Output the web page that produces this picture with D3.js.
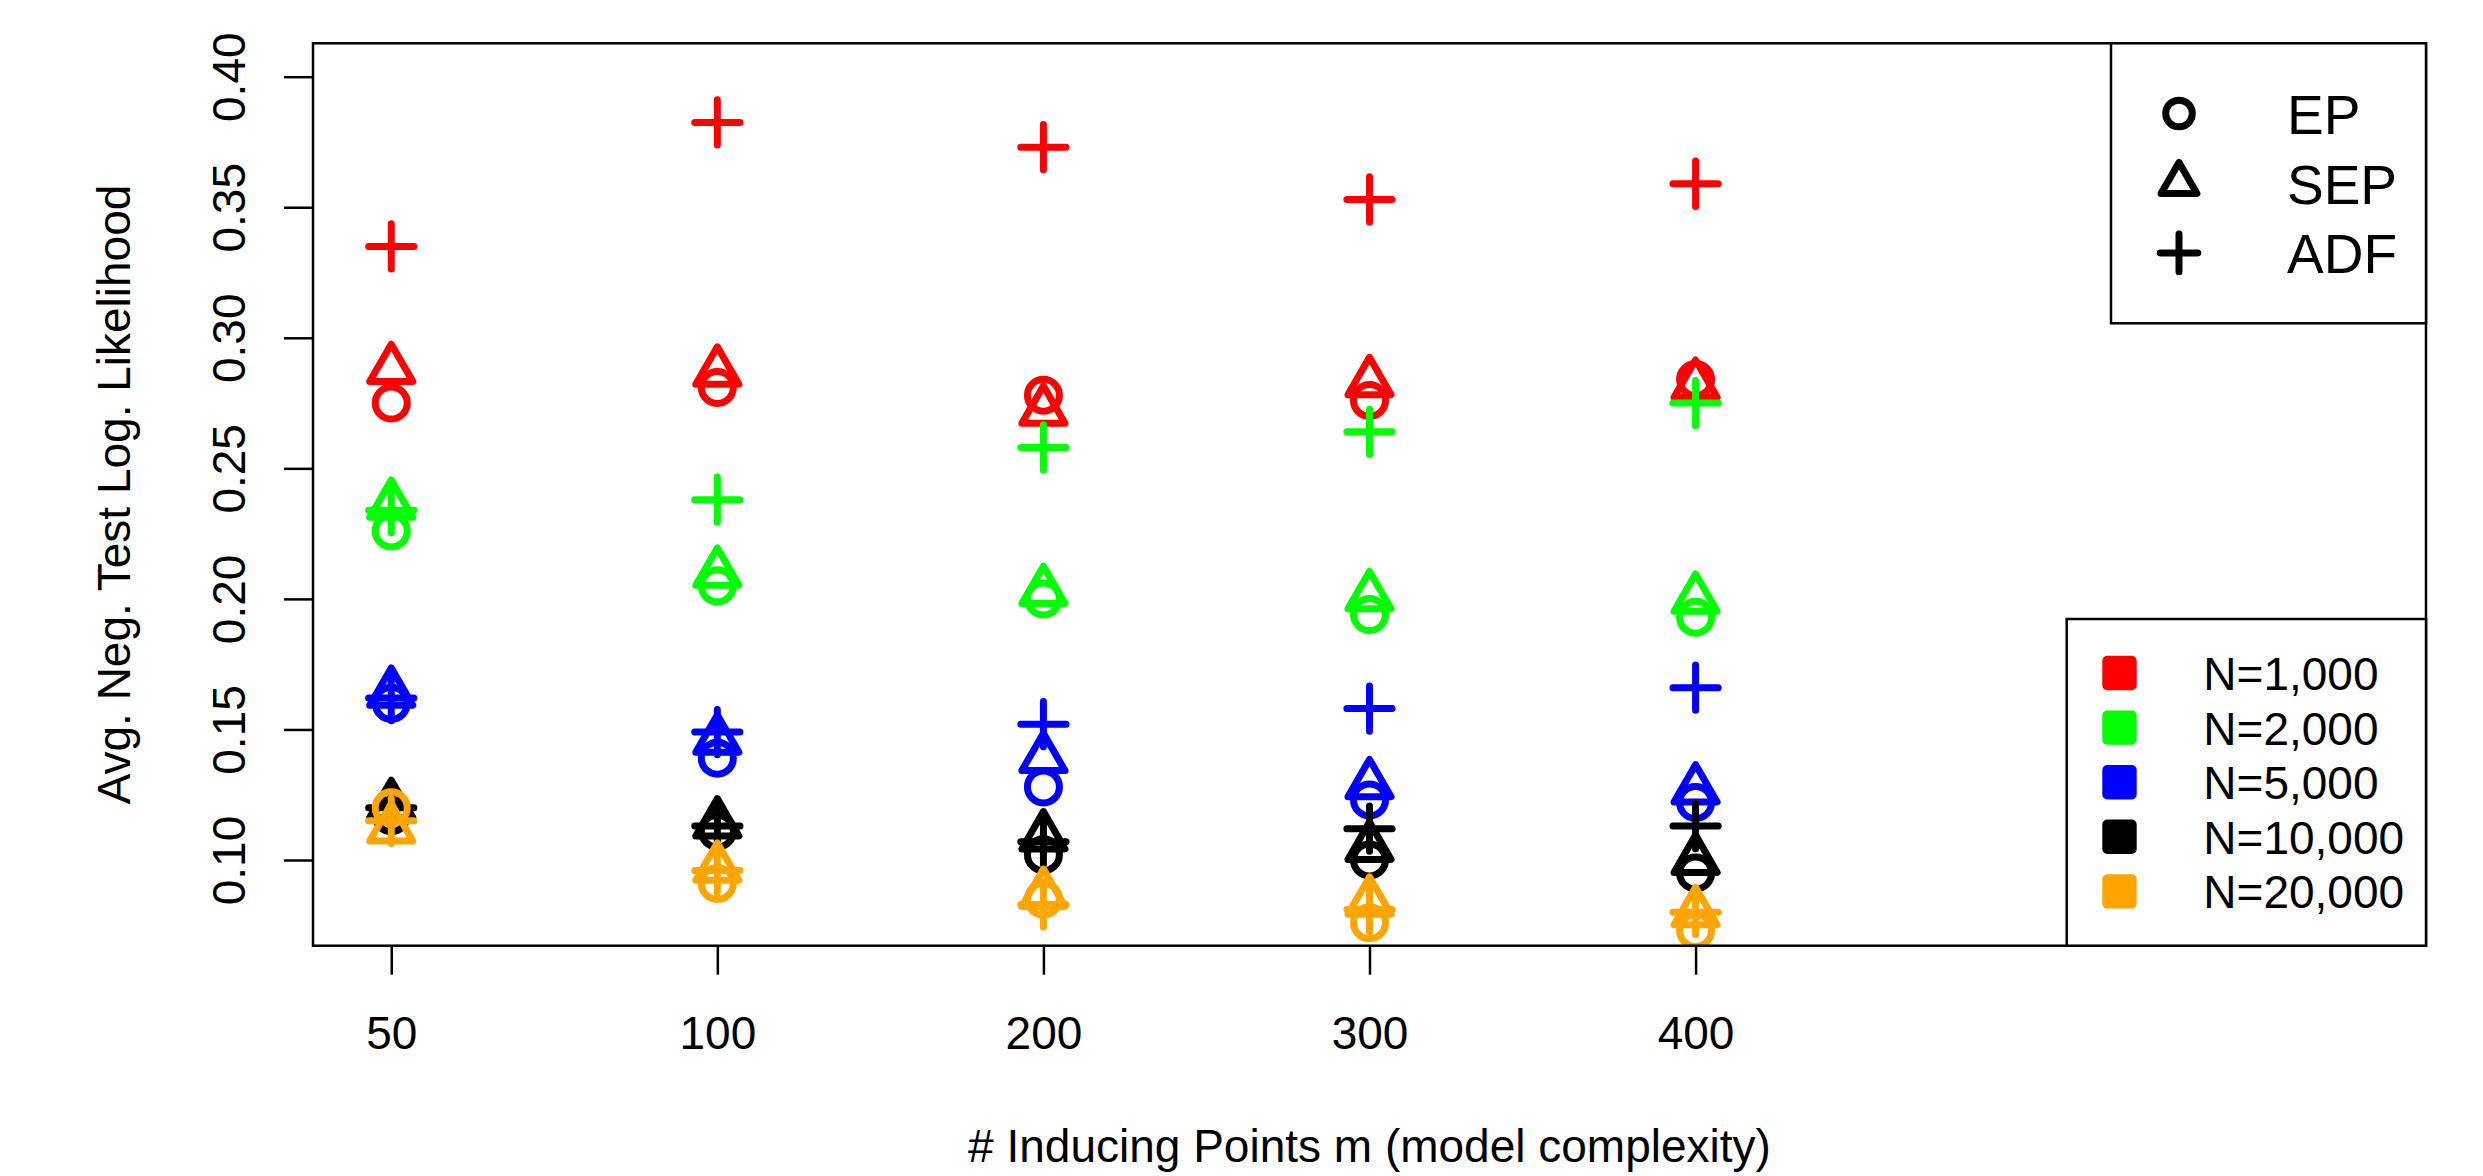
<!DOCTYPE html>
<html>
<head>
<meta charset="utf-8">
<script src="https://cdn.jsdelivr.net/npm/d3@7"></script>
<style>
  html, body { margin: 0; padding: 0; background: #fff; }
  svg { display: block; }
  text { font-family: "Liberation Sans", Arial, Helvetica, sans-serif; fill: #000; }
</style>
</head>
<body>
<script>
// Inducing points (x categories) and dataset sizes
const inducingPoints = [50, 100, 200, 300, 400];
const sizeLabels = ["N=1,000", "N=2,000", "N=5,000", "N=10,000", "N=20,000"];
const sizeColors = ["#ff0000", "#00ff00", "#0000ff", "#000000", "#ffa500"];
const methods = ["EP", "SEP", "ADF"];
const yTicks = [0.10, 0.15, 0.20, 0.25, 0.30, 0.35, 0.40];

// Avg. negative test log likelihood, one row per dataset size
const epValues = [
  [0.275, 0.281, 0.278, 0.276, 0.284],
  [0.226, 0.205, 0.200, 0.194, 0.193],
  [0.160, 0.139, 0.128, 0.123, 0.122],
  [0.117, 0.111, 0.102, 0.100, 0.095],
  [0.120, 0.091, 0.085, 0.076, 0.073]
];
const sepValues = [
  [0.288, 0.287, 0.272, 0.283, 0.282],
  [0.236, 0.210, 0.203, 0.201, 0.200],
  [0.164, 0.146, 0.139, 0.129, 0.127],
  [0.121, 0.114, 0.109, 0.105, 0.100],
  [0.112, 0.097, 0.087, 0.084, 0.080]
];
const adfValues = [
  [0.335, 0.3825, 0.373, 0.353, 0.359],
  [0.234, 0.238, 0.258, 0.264, 0.275],
  [0.162, 0.149, 0.152, 0.158, 0.166],
  [0.120, 0.113, 0.107, 0.112, 0.113],
  [0.115, 0.096, 0.083, 0.081, 0.080]
];

const W = 2483, H = 1176;
const plot = { left: 313, right: 2426, top: 43.3, bottom: 945.7 };
const LW = 7;

const svg = d3.select("body").append("svg")
  .attr("width", W).attr("height", H)
  .attr("viewBox", `0 0 ${W} ${H}`);
svg.append("rect").attr("width", W).attr("height", H).attr("fill", "#fff");

const x = d3.scaleLinear().domain([0.76, 7.24]).range([plot.left, plot.right]);
const y = d3.scaleLinear().domain([0.06718, 0.41279]).range([plot.bottom, plot.top]);

// marker shapes (u = base symbol radius)
function markerPath(method, u) {
  if (method === "EP") {
    return `M ${u},0 A ${u},${u} 0 1,1 ${-u},0 A ${u},${u} 0 1,1 ${u},0 Z`;
  }
  if (method === "SEP") {
    const r = 1.5551 * u, xc = 1.3468 * u, yc = 0.7776 * u;
    return `M 0,${-r} L ${xc},${yc} L ${-xc},${yc} Z`;
  }
  const h = Math.SQRT2 * u;
  return `M ${-h},0 H ${h} M 0,${-h} V ${h}`;
}

svg.append("defs").append("clipPath").attr("id", "plot-clip")
  .append("rect")
  .attr("x", plot.left).attr("y", plot.top)
  .attr("width", plot.right - plot.left).attr("height", plot.bottom - plot.top);

// points
const seriesByMethod = { EP: epValues, SEP: sepValues, ADF: adfValues };
const points = [];
sizeLabels.forEach((lab, si) => {
  methods.forEach(mt => {
    seriesByMethod[mt][si].forEach((v, i) => {
      points.push({ method: mt, color: sizeColors[si], xi: i + 1, v });
    });
  });
});

svg.append("g").attr("clip-path", "url(#plot-clip)")
  .selectAll("path").data(points).join("path")
  .attr("transform", d => `translate(${x(d.xi)},${y(d.v)})`)
  .attr("d", d => markerPath(d.method, 16))
  .attr("fill", "none")
  .attr("stroke", d => d.color)
  .attr("stroke-width", LW)
  .attr("stroke-linecap", "round")
  .attr("stroke-linejoin", "round");

// axes
const yAxis = d3.axisLeft(y).tickValues(yTicks).tickFormat(d3.format(".2f")).tickSize(29);
const gy = svg.append("g").attr("transform", `translate(${plot.left},0)`).call(yAxis);
gy.select(".domain").remove();
gy.selectAll(".tick line").attr("stroke", "#000").attr("stroke-width", 2.5);
gy.selectAll(".tick text")
  .attr("x", null).attr("dy", null)
  .attr("text-anchor", "middle")
  .attr("transform", "translate(-68,0) rotate(-90)")
  .style("font-size", "46px")
  .style("font-family", '"Liberation Sans", Arial, sans-serif');

const xAxis = d3.axisBottom(x).tickValues(inducingPoints.map((d, i) => i + 1))
  .tickFormat(d => inducingPoints[d - 1]).tickSize(29);
const gx = svg.append("g").attr("transform", `translate(0,${plot.bottom})`).call(xAxis);
gx.select(".domain").remove();
gx.selectAll(".tick line").attr("stroke", "#000").attr("stroke-width", 2.5);
gx.selectAll(".tick text")
  .attr("y", 103.3).attr("dy", null)
  .style("font-size", "46px")
  .style("font-family", '"Liberation Sans", Arial, sans-serif');

// plot frame
svg.append("rect")
  .attr("x", plot.left).attr("y", plot.top)
  .attr("width", plot.right - plot.left).attr("height", plot.bottom - plot.top)
  .attr("fill", "none").attr("stroke", "#000").attr("stroke-width", 2.5);

// axis titles
svg.append("text")
  .attr("transform", `translate(130,${(plot.top + plot.bottom) / 2}) rotate(-90)`)
  .attr("text-anchor", "middle")
  .style("font-size", "46px")
  .text("Avg. Neg. Test Log. Likelihood");

svg.append("text")
  .attr("x", (plot.left + plot.right) / 2).attr("y", 1162)
  .attr("text-anchor", "middle")
  .style("font-size", "46px")
  .text("# Inducing Points m (model complexity)");

// method legend
const lg1 = { x0: 2111, y0: plot.top, x1: plot.right, y1: 323.3 };
svg.append("rect")
  .attr("x", lg1.x0).attr("y", lg1.y0)
  .attr("width", lg1.x1 - lg1.x0).attr("height", lg1.y1 - lg1.y0)
  .attr("fill", "#fff").attr("stroke", "#000").attr("stroke-width", 2.5);
const lg1Rows = svg.append("g").selectAll("g").data(methods).join("g")
  .attr("transform", (d, i) => `translate(0,${134 + i * 69.7})`);
lg1Rows.append("path")
  .attr("transform", "translate(2179,-20.5)")
  .attr("d", d => markerPath(d, 13.3))
  .attr("fill", "none").attr("stroke", "#000").attr("stroke-width", LW)
  .attr("stroke-linecap", "round").attr("stroke-linejoin", "round");
lg1Rows.append("text")
  .attr("x", 2287).attr("y", 0)
  .style("font-size", "55px")
  .text(d => d);

// dataset size legend
const lg2 = { x0: 2066.7, y0: 619, x1: plot.right, y1: plot.bottom };
svg.append("rect")
  .attr("x", lg2.x0).attr("y", lg2.y0)
  .attr("width", lg2.x1 - lg2.x0).attr("height", lg2.y1 - lg2.y0)
  .attr("fill", "#fff").attr("stroke", "#000").attr("stroke-width", 2.5);
const lg2Rows = svg.append("g").selectAll("g").data(sizeLabels).join("g")
  .attr("transform", (d, i) => `translate(0,${690 + i * 54.6})`);
lg2Rows.append("rect")
  .attr("x", 2102.3).attr("y", -34.2).attr("width", 34.4).attr("height", 34.4)
  .attr("rx", 5).attr("ry", 5)
  .attr("fill", (d, i) => sizeColors[i]);
lg2Rows.append("text")
  .attr("x", 2203.3).attr("y", 0)
  .style("font-size", "46px")
  .text(d => d);
</script>
</body>
</html>
